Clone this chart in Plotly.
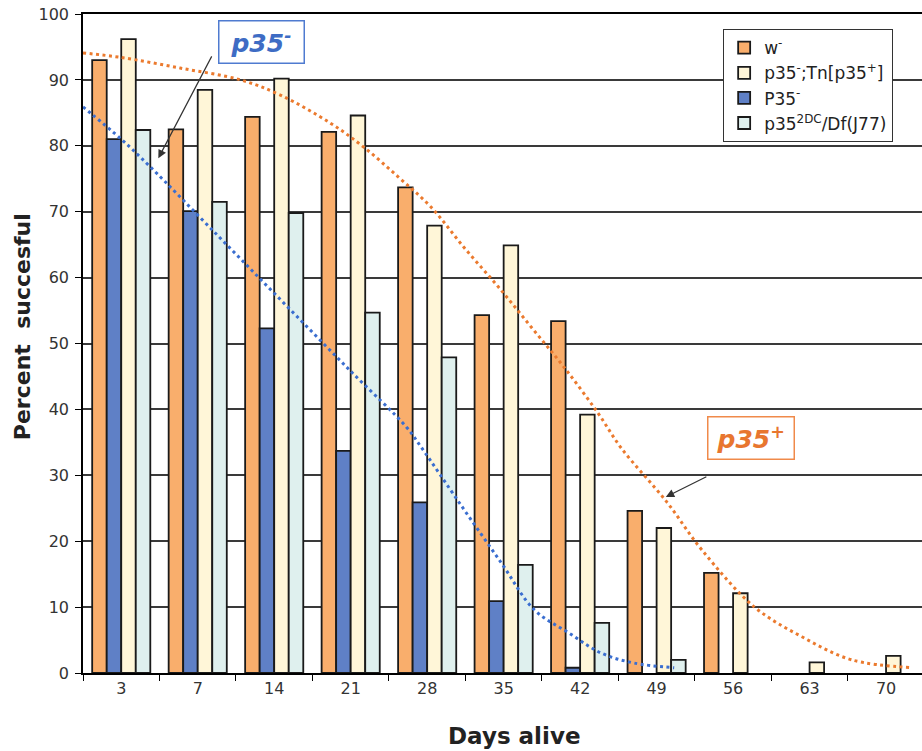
import plotly.graph_objects as go

# ---- data ----
days = [3, 7, 14, 21, 28, 35, 42, 49, 56, 63, 70]
w_minus = [93.0, 82.5, 84.4, 82.1, 73.7, 54.3, 53.4, 24.6, 15.2, None, None]
p35_minus = [81.0, 70.1, 52.3, 33.7, 25.9, 10.9, 0.8, None, None, None, None]
p35_tn = [96.2, 88.5, 90.2, 84.6, 67.9, 64.9, 39.2, 22.0, 12.1, 1.6, 2.6]
p35_2dc = [82.4, 71.5, 69.8, 54.7, 47.9, 16.4, 7.6, 2.0, None, None, None]

# dotted trend curves (x in category index units)
orange_trend_x = [-0.5, 0.0, 0.77, 1.56, 2.08, 2.74, 3.17, 3.62, 4.05, 4.48, 4.93, 5.36,
                  5.79, 6.23, 6.54, 7.13, 7.59, 8.28, 8.90, 9.55, 10.34]
orange_trend_y = [94.1, 93.4, 91.8, 90.0, 87.7, 83.4, 79.8, 75.3, 70.7, 64.6, 58.6, 52.5,
                  46.4, 39.5, 34.1, 26.0, 18.7, 10.0, 5.5, 2.0, 0.8]
blue_trend_x = [-0.5, 0.0, 0.38, 1.26, 2.12, 3.0, 3.73, 3.92, 4.44, 4.97, 5.40, 5.85,
                6.28, 6.71, 7.23]
blue_trend_y = [85.9, 81.0, 76.8, 66.4, 56.2, 45.8, 37.3, 34.3, 25.5, 16.7, 9.6, 6.1,
                3.0, 1.5, 0.8]

idx = list(range(len(days)))
tick_labels = [str(d) for d in days]

FONT = "DejaVu Sans"
EDGE = "#1a1a1a"

fig = go.Figure()

series = [
    ("w<sup>-</sup>", w_minus, "#F9AE6C", 1),
    ("P35<sup>-</sup>", p35_minus, "#5F80C6", 3),
    ("p35<sup>-</sup>;Tn[p35<sup>+</sup>]", p35_tn, "#FFF6D8", 2),
    ("p35<sup>2DC</sup>/Df(J77)", p35_2dc, "#DFF0EE", 4),
]
for name, vals, color, rank in series:
    fig.add_trace(go.Bar(
        x=idx, y=vals, name=name, legendrank=rank,
        marker=dict(color=color, line=dict(color=EDGE, width=1.8)),
    ))

fig.add_trace(go.Scatter(
    x=orange_trend_x, y=orange_trend_y, mode="lines", showlegend=False,
    line=dict(color="#EB7A2E", width=3, dash="3px,3.5px", shape="spline", smoothing=1),
))
fig.add_trace(go.Scatter(
    x=blue_trend_x, y=blue_trend_y, mode="lines", showlegend=False,
    line=dict(color="#3A6ED0", width=3, dash="3px,3.5px", shape="spline", smoothing=1),
))

# boxed labels with arrows
fig.add_annotation(x=1.835, y=95.8, text="&nbsp;<b><i>p35<sup>-</sup></i></b>&nbsp;",
                   showarrow=False,
                   font=dict(family=FONT, size=25, color="#3E6CC4"),
                   bordercolor="#4F7BD0", borderwidth=1.5, borderpad=4, bgcolor="white")
fig.add_annotation(x=0.485, y=78.1, ax=1.193, ay=93.8, axref="x", ayref="y", text="",
                   showarrow=True, arrowhead=2, arrowsize=1.4, arrowwidth=1.2,
                   arrowcolor="#333333")
fig.add_annotation(x=8.24, y=35.7, text="&#8201;<b><i>p35<sup>+</sup></i></b>&#8201;",
                   showarrow=False,
                   font=dict(family=FONT, size=25, color="#E8762F"),
                   bordercolor="#F08A4A", borderwidth=1.5, borderpad=4, bgcolor="white")
fig.add_annotation(x=7.12, y=26.7, ax=7.67, ay=29.9, axref="x", ayref="y", text="",
                   showarrow=True, arrowhead=2, arrowsize=1.4, arrowwidth=1.2,
                   arrowcolor="#333333")

# axis titles
fig.add_annotation(xref="paper", yref="paper", x=0.5143, y=-0.0956,
                   xanchor="center", yanchor="middle",
                   text="<b>Days alive</b>", showarrow=False,
                   font=dict(family=FONT, size=23, color="#222222"))
fig.add_annotation(xref="paper", yref="paper", x=-0.0721, y=0.5255, textangle=-90,
                   xanchor="center", yanchor="middle",
                   text="<b>Percent&nbsp; succesful</b>", showarrow=False,
                   font=dict(family=FONT, size=22, color="#222222"))

fig.update_layout(
    width=922, height=751,
    margin=dict(l=83, r=0, t=14, b=78, autoexpand=False),
    paper_bgcolor="white", plot_bgcolor="white",
    barmode="group", bargap=0.24, bargroupgap=0,
    font=dict(family=FONT, color="#333333"),
    showlegend=True,
    legend=dict(x=0.763, y=0.977, xanchor="left", yanchor="top",
                bgcolor="white", bordercolor="#333333", borderwidth=1,
                font=dict(family=FONT, size=17, color="#222222"),
                traceorder="normal"),
    xaxis=dict(
        range=[-0.5, 10.47], tickmode="array", tickvals=idx, ticktext=tick_labels,
        ticks="", showgrid=False, zeroline=False, automargin=False,
        showline=True, linecolor="black", linewidth=1.5, mirror=True,
        tickfont=dict(family=FONT, size=16, color="#333333"),
        minor=dict(tickmode="linear", tick0=-0.5, dtick=1, ticks="outside",
                   ticklen=6, tickcolor="black", tickwidth=1, showgrid=False),
    ),
    yaxis=dict(
        range=[0, 100], tickmode="linear", tick0=0, dtick=10,
        ticks="outside", ticklen=6, tickcolor="black", automargin=False,
        ticklabelstandoff=3, ticklabeloverflow="allow",
        showgrid=True, gridcolor="#3a3a3a", gridwidth=1.5, zeroline=False,
        showline=True, linecolor="black", linewidth=1.5,
        tickfont=dict(family=FONT, size=16, color="#333333"),
    ),
)

# remove the browser's default 8px page margin so the figure sits at the window's corner
fig.write_html("out.html",
               config={"displayModeBar": False},
               post_script="document.body.style.margin='0';document.body.style.overflow='hidden';")
